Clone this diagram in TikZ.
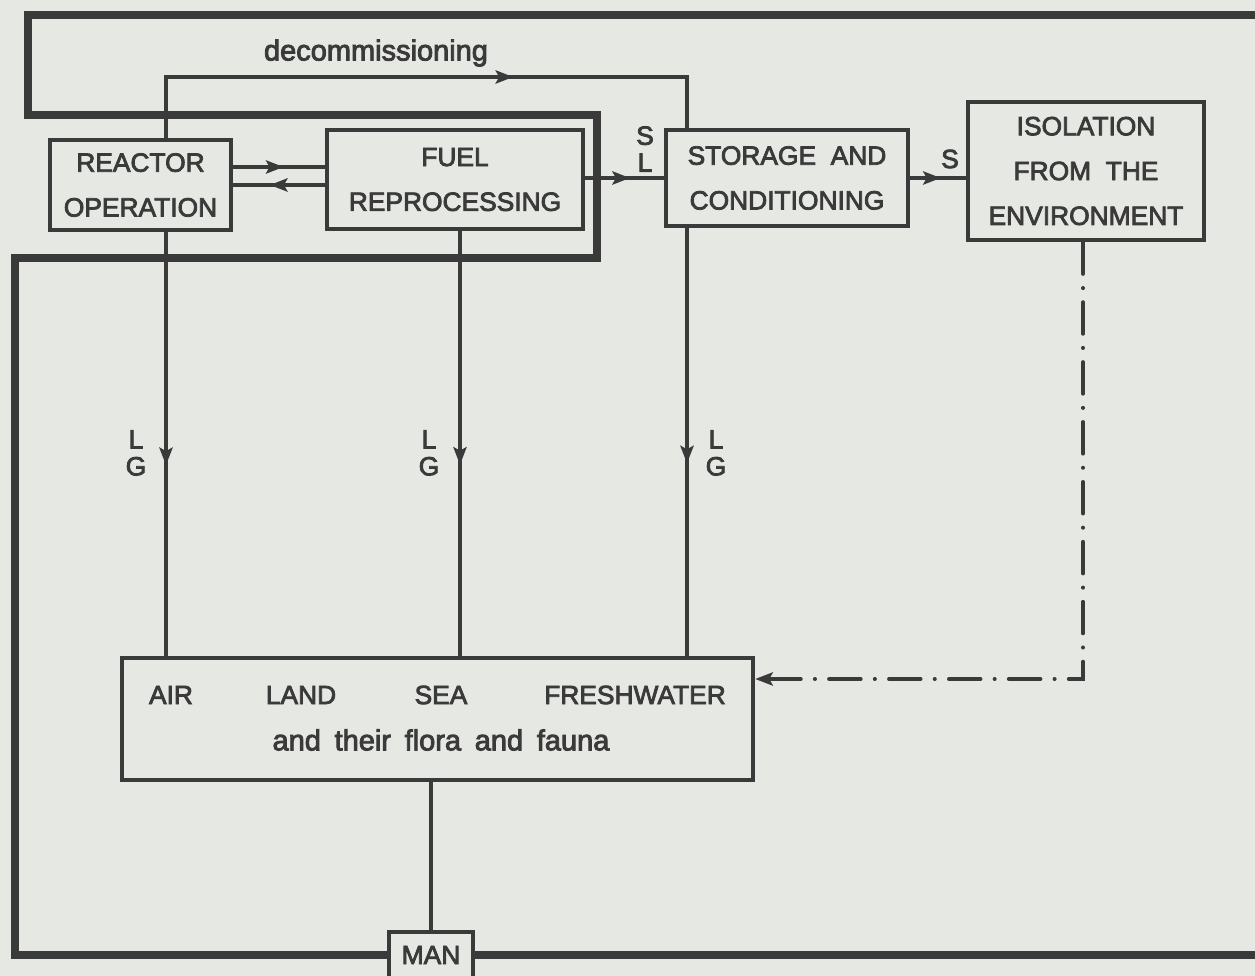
\documentclass[tikz,border=0pt]{standalone}
\usepackage{fontspec}
\setmainfont{Liberation Sans}[FakeBold=3]
\newfontfamily\widefont{Liberation Sans}[FakeBold=3,WordSpace=1.7]
\usetikzlibrary{arrows.meta,decorations.markings}
\definecolor{paper}{HTML}{E6E8E4}
\definecolor{ink}{HTML}{3A3A3A}

\begin{document}
\begin{tikzpicture}[
    x=0.02cm,y=-0.02cm,
    every node/.style={text=ink,font=\fontsize{15}{25.5}\selectfont},
    box/.style={draw=ink,line width=2.6pt,align=center,inner sep=0pt},
    tag/.style={align=center,font=\fontsize{15}{15.3}\selectfont,inner sep=0pt},
    lower/.style={font=\widefont\fontsize{16.5}{20}\selectfont},
    pipe/.style={draw=ink,line width=2.2pt},
    midtip/.style={pipe,postaction={decorate},
        decoration={markings,mark=at position #1 with {\arrow{Stealth[length=10pt,width=7.5pt,inset=2pt]}}}},
    barrier/.style={draw=ink,line width=4pt},
    dashdot/.style={pipe,line cap=round,dash pattern=on 18pt off 8pt on 0.1pt off 8pt}
]
\useasboundingbox (0,0) rectangle (1255,976);
\clip (0,0) rectangle (1255,976);
\fill[paper] (0,0) rectangle (1255,976);

% boxes
\node[box,minimum width=3.62cm,minimum height=1.8cm] (reactor) at (140.5,185) {REACTOR\\OPERATION};
\node[box,minimum width=5.12cm,minimum height=1.98cm] (fuel) at (455,179.5) {FUEL\\REPROCESSING};
\node[box,minimum width=4.84cm,minimum height=1.92cm] (storage) at (787,178) {STORAGE\ \ AND\\CONDITIONING};
\node[box,minimum width=4.72cm,minimum height=2.76cm] (isolation) at (1086,171) {ISOLATION\\FROM\ \ THE\\ENVIRONMENT};
\node[box,minimum width=12.62cm,minimum height=2.44cm] (env) at (437.5,719) {};
\node[box,fill=paper,minimum width=1.68cm,minimum height=0.92cm] (man) at (431,955) {MAN};

% texts in the environment box
\node (air) at (171,695) {AIR};
\node (land) at (301,695) {LAND};
\node (sea) at (441,695) {SEA};
\node (fresh) at (635,695) {FRESHWATER};
\node[lower] (flora) at (441,740) {and their flora and fauna};

% columns
\coordinate (colA) at (166,77);
\coordinate (colB) at (460,0);
\coordinate (colC) at (687,77);
\coordinate (colD) at (1083,679);

% barrier
\draw[barrier] (1270,15) -- (28,15) -- (28,115) -- (597,115) -- (597,258) -- (15,258) -- (15,955) -- (man.west);
\draw[barrier] (man.east) -- (1270,955);

% flows
\draw[midtip=0.645] (reactor.north -| colA) -- (colA) -- (colC) -- (storage.north -| colC);
\node[lower] (decommlabel) at (376,53) {decommissioning};
\draw[midtip=0.55] ([yshift=0.36cm]reactor.east) -- ([yshift=0.36cm]reactor.east -| fuel.west);
\draw[midtip=0.6] (reactor.east -| fuel.west) -- (reactor.east);
\draw[midtip=0.57] (storage.west -| fuel.east) -- (storage.west);
\node[tag] (sl) at (645,149) {S\\L};
\draw[midtip=0.55] (storage.east) -- (storage.east -| isolation.west);
\node[tag] (s) at (950,159) {S};

\draw[midtip=0.55] (reactor.south -| colA) -- (env.north -| colA);
\draw[midtip=0.55] (fuel.south -| colB) -- (env.north -| colB);
\draw[midtip=0.55] (storage.south -| colC) -- (env.north -| colC);
\node[tag] (lgA) at (136,453) {L\\G};
\node[tag] (lgB) at (429,453) {L\\G};
\node[tag] (lgC) at (716,453) {L\\G};

\draw[dashdot,-{Stealth[length=10pt,width=7.5pt,inset=2pt]}] (isolation.south -| colD) -- (colD) -- (colD -| env.east);
\draw[pipe] (env.south -| man.north) -- (man.north);
\end{tikzpicture}
\end{document}
